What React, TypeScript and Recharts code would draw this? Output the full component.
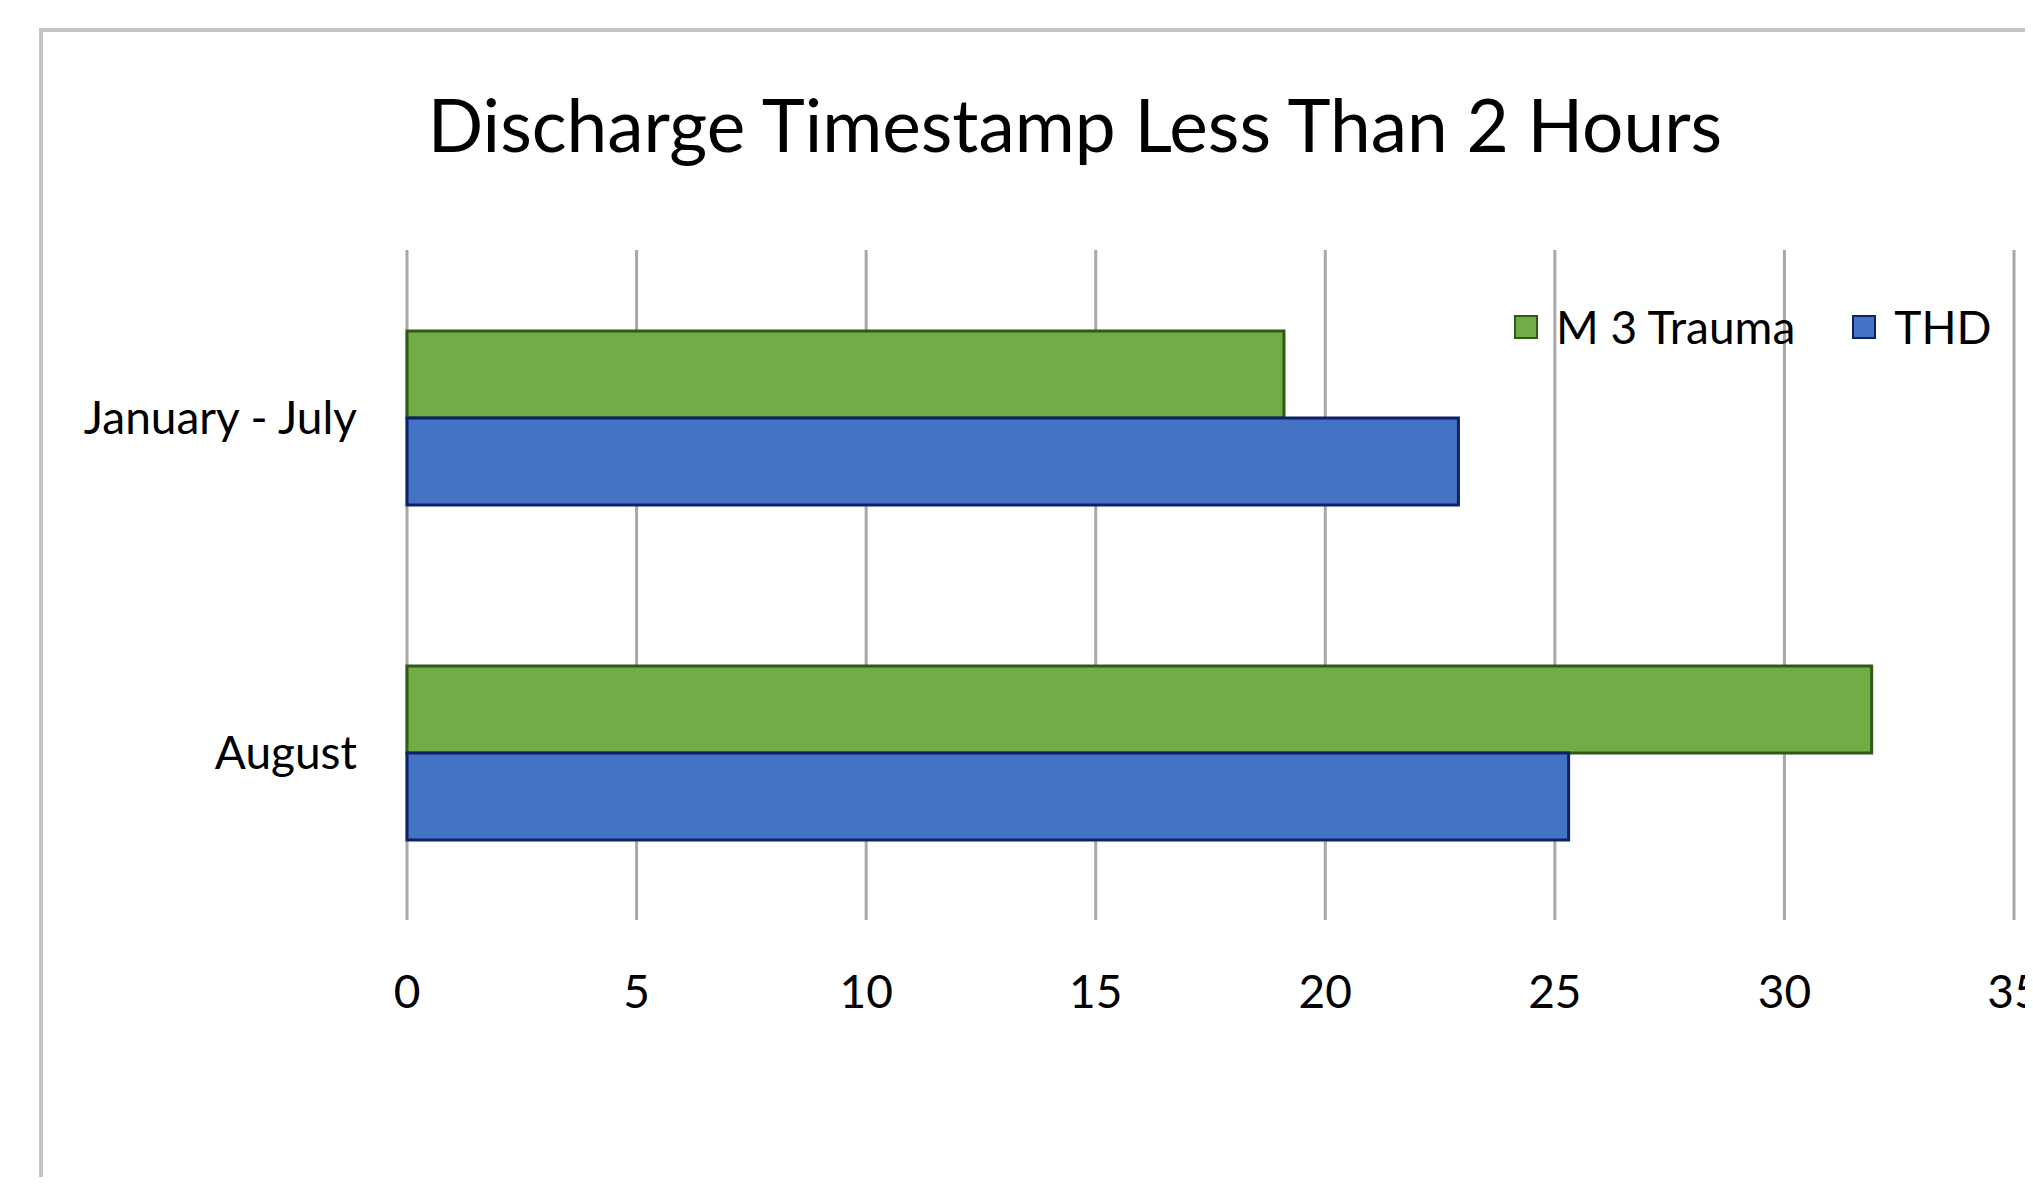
import { Bar, BarChart, CartesianGrid, Legend, XAxis, YAxis } from "recharts";

const periods = ["January - July", "August"];
const m3Trauma = [19.1, 31.9];
const thd = [22.9, 25.3];
const xTicks = [0, 5, 10, 15, 20, 25, 30, 35];

const SERIES = [
  { key: "M 3 Trauma", fill: "#70ad47", edge: "#2f5a16" },
  { key: "THD", fill: "#4472c4", edge: "#0d2266" },
];

const FONT = 'Lato, "Open Sans", "DejaVu Sans", sans-serif';

const data = periods.map((p, i) => ({
  period: p,
  "M 3 Trauma": m3Trauma[i],
  THD: thd[i],
}));

function LegendContent() {
  return (
    <div
      style={{
        display: "flex",
        alignItems: "center",
        fontFamily: FONT,
        fontSize: 46,
        lineHeight: 1,
        color: "#000",
        whiteSpace: "nowrap",
      }}
    >
      {SERIES.map((s, i) => (
        <div
          key={s.key}
          style={{ display: "flex", alignItems: "center", marginRight: i === 0 ? 57 : 0 }}
        >
          <span
            style={{
              display: "inline-block",
              width: 20,
              height: 20,
              background: s.fill,
              border: `2px solid ${s.edge}`,
              marginRight: 18,
            }}
          />
          <span>{s.key}</span>
        </div>
      ))}
    </div>
  );
}

export default function App() {
  const tickStyle = { fontFamily: FONT, fontSize: 46, fill: "#000" };

  return (
    <div
      style={{
        position: "relative",
        width: 2017,
        height: 1169,
        overflow: "hidden",
        background: "#fff",
      }}
    >
      {/* chart frame, only its top and left edges are in view */}
      <div
        style={{
          position: "absolute",
          left: 31,
          top: 20,
          width: 3000,
          height: 3000,
          borderLeft: "4px solid #c4c4c4",
          borderTop: "4px solid #c4c4c4",
        }}
      />
      <div
        style={{
          position: "absolute",
          left: 0,
          top: 80,
          width: 2134,
          textAlign: "center",
          fontFamily: FONT,
          fontSize: 73,
          lineHeight: 1,
          color: "#000",
          whiteSpace: "nowrap",
        }}
      >
        Discharge Timestamp Less Than 2 Hours
      </div>
      <div style={{ position: "absolute", left: 0, top: 0 }}>
        <BarChart
          width={2100}
          height={1169}
          data={data}
          layout="vertical"
          margin={{ top: 242, right: 94, bottom: 157, left: 0 }}
          barGap={0}
          barSize={87}
        >
          <CartesianGrid horizontal={false} stroke="#a8a8a8" strokeWidth={3} />
          <XAxis
            type="number"
            domain={[0, 35]}
            ticks={xTicks}
            axisLine={false}
            tickLine={false}
            tickSize={0}
            tickMargin={55}
            height={100}
            tick={tickStyle}
            interval={0}
          />
          <YAxis
            type="category"
            dataKey="period"
            width={399}
            axisLine={false}
            tickLine={false}
            tickSize={0}
            tickMargin={50}
            tick={tickStyle}
          />
          <Legend
            layout="horizontal"
            verticalAlign="middle"
            align="center"
            content={<LegendContent />}
            wrapperStyle={{ top: 296, left: 1506, width: "auto" }}
          />
          {SERIES.map((s) => (
            <Bar
              key={s.key}
              dataKey={s.key}
              fill={s.fill}
              stroke={s.edge}
              strokeWidth={3}
              isAnimationActive={false}
            />
          ))}
        </BarChart>
      </div>
    </div>
  );
}
